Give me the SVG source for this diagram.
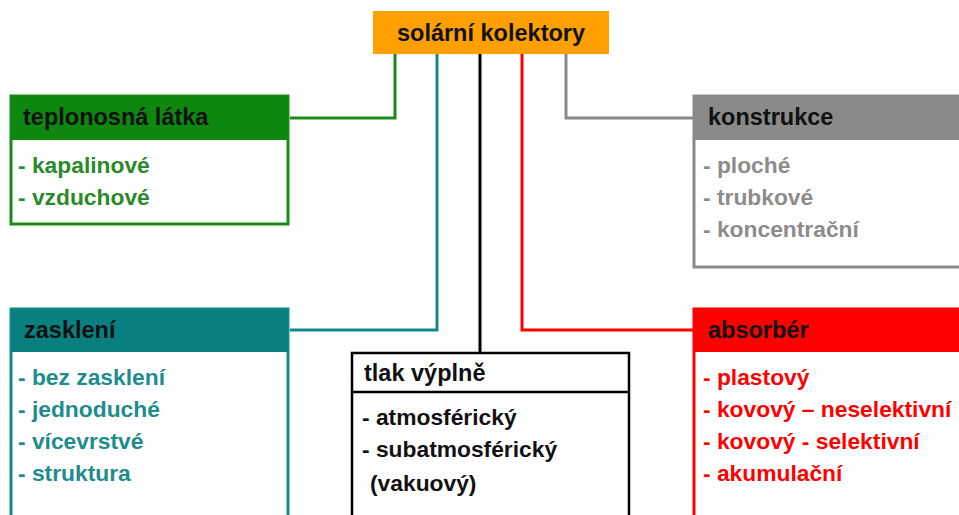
<svg xmlns="http://www.w3.org/2000/svg" width="959" height="515" viewBox="0 0 959 515">
<style>
text{font-family:"Liberation Sans",Arial,sans-serif;font-weight:bold}
.h{font-size:23.5px;fill:#111}
.i{font-size:22.8px}
.c{fill:none;stroke-width:3}
</style>
<rect width="959" height="515" fill="#fff"/>
<g id="connectors">
<polyline class="c" stroke="#1a8a1a" points="395,54 395,118 290,118"/>
<polyline class="c" stroke="#128a8a" points="437,54 437,330 290,330"/>
<polyline class="c" stroke="#000" points="480,54 480,353"/>
<polyline class="c" stroke="#ff0000" points="522,54 522,330 693,330"/>
<polyline class="c" stroke="#8a8a8a" points="566,54 566,118 693,118"/>
</g>
<g id="root">
<rect x="373" y="11" width="236" height="43" fill="#ffa000"/>
<text class="h" x="491" y="41" text-anchor="middle">solární kolektory</text>
</g>
<g id="teplonosna">
<rect x="11" y="96" width="277" height="128" fill="#fff" stroke="#1a8a1a" stroke-width="3"/>
<rect x="11" y="96" width="277" height="44" fill="#0e870e"/>
<text class="h" x="23" y="125">teplonosná látka</text>
<text class="i" fill="#2a8a2a" x="18" y="173">- kapalinové</text>
<text class="i" fill="#2a8a2a" x="18" y="205">- vzduchové</text>
</g>
<g id="konstrukce">
<rect x="694" y="96" width="270" height="171" fill="#fff" stroke="#8a8a8a" stroke-width="3"/>
<rect x="694" y="96" width="270" height="44" fill="#8a8a8a"/>
<text class="h" x="708" y="125">konstrukce</text>
<text class="i" fill="#8c8c8c" x="703" y="173">- ploché</text>
<text class="i" fill="#8c8c8c" x="703" y="205">- trubkové</text>
<text class="i" fill="#8c8c8c" x="703" y="237">- koncentrační</text>
</g>
<g id="zaskleni">
<rect x="11" y="309" width="277" height="220" fill="#fff" stroke="#128a8a" stroke-width="3"/>
<rect x="11" y="309" width="277" height="43" fill="#0a7f7f"/>
<text class="h" x="24" y="338">zasklení</text>
<text class="i" fill="#1e8c8c" x="18" y="385">- bez zasklení</text>
<text class="i" fill="#1e8c8c" x="18" y="417">- jednoduché</text>
<text class="i" fill="#1e8c8c" x="18" y="449">- vícevrstvé</text>
<text class="i" fill="#1e8c8c" x="18" y="481">- struktura</text>
</g>
<g id="tlak">
<rect x="352" y="353" width="277" height="180" fill="#fff" stroke="#000" stroke-width="2.5"/>
<line x1="352" y1="392" x2="629" y2="392" stroke="#000" stroke-width="2.5"/>
<text class="h" x="364" y="381">tlak výplně</text>
<text class="i" fill="#111" x="362" y="425">- atmosférický</text>
<text class="i" fill="#111" x="362" y="457">- subatmosférický</text>
<text class="i" fill="#111" x="370" y="491">(vakuový)</text>
</g>
<g id="absorber">
<rect x="694" y="309" width="270" height="220" fill="#fff" stroke="#ff0000" stroke-width="3"/>
<rect x="694" y="309" width="270" height="43" fill="#ff0000"/>
<text class="h" x="708" y="338">absorbér</text>
<text class="i" fill="#ff0000" x="703" y="385">- plastový</text>
<text class="i" fill="#ff0000" x="703" y="417">- kovový – neselektivní</text>
<text class="i" fill="#ff0000" x="703" y="449">- kovový - selektivní</text>
<text class="i" fill="#ff0000" x="703" y="481">- akumulační</text>
</g>
</svg>
